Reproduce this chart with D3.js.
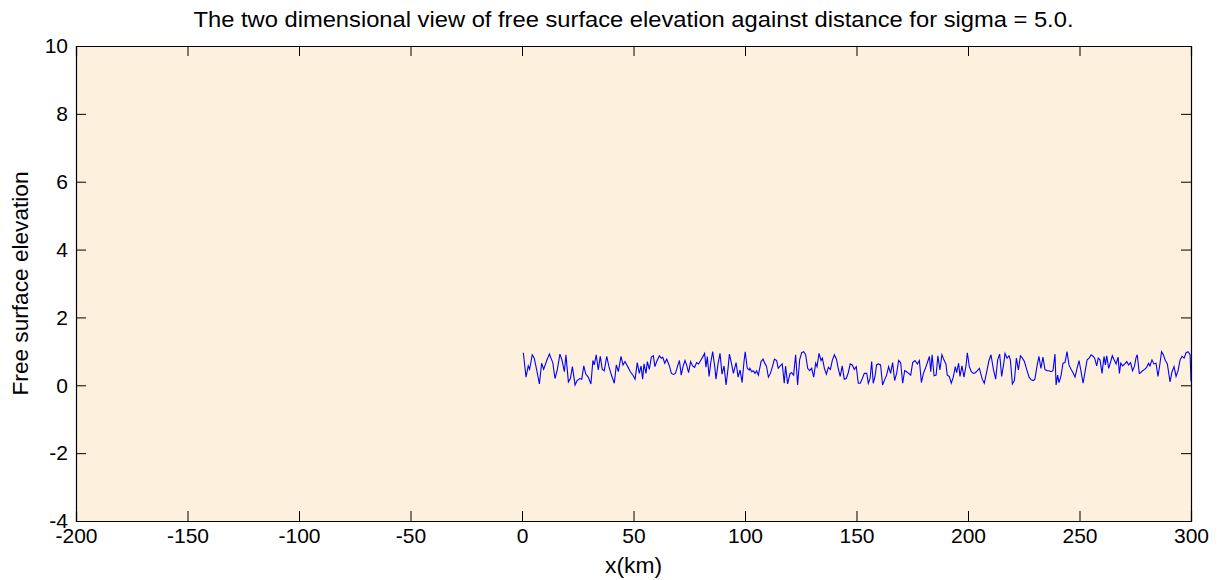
<!DOCTYPE html>
<html><head><meta charset="utf-8">
<script src="https://cdn.jsdelivr.net/npm/d3@7"></script>
<style>body{margin:0;background:#fff}svg{display:block}text{font-family:"Liberation Sans",Arial,sans-serif;fill:#000}</style>
</head><body>
<script>
const title = "The two dimensional view of free surface elevation against distance for sigma = 5.0.";
const xLabel = "x(km)";
const yLabel = "Free surface elevation";
const xTicks = [-200,-150,-100,-50,0,50,100,150,200,250,300];
const yTicks = [-4,-2,0,2,4,6,8,10];
const distanceKm = [0.6,1.8,2.8,3.4,4.6,5.5,6.6,7.8,8.8,9.7,11.1,12.3,13.0,13.8,14.8,15.8,17.0,17.9,19.0,19.7,20.8,21.7,22.6,23.8,24.7,25.9,26.8,27.7,28.6,29.7,30.9,31.8,32.4,33.3,34.2,35.1,36.0,36.9,38.0,39.0,40.2,41.4,42.3,43.2,44.4,45.3,46.2,47.4,48.6,49.9,
50.7,51.7,52.6,53.4,54.1,54.7,55.6,56.2,57.1,58.0,58.9,59.6,60.4,61.6,62.5,63.1,64.0,64.9,66.1,67.0,67.9,68.8,69.7,70.6,71.4,72.3,73.1,73.8,74.7,75.6,76.5,77.4,78.3,79.2,80.1,81.0,81.9,82.5,83.1,83.9,84.6,85.5,86.4,87.0,87.9,88.8,89.7,90.6,91.5,92.4,93.0,93.9,94.8,96.0,96.9,97.8,98.7,99.6,100.1,101.0,101.9,
102.2,103.0,103.7,104.5,105.2,106.0,107.2,108.1,109.0,109.6,110.5,111.4,112.3,113.2,114.2,114.9,115.8,116.7,117.6,118.2,119.1,120.2,120.9,121.8,122.7,123.6,124.5,125.4,126.3,127.2,128.1,129.0,129.9,130.8,131.7,132.3,133.2,134.1,134.7,135.6,136.5,137.4,138.3,139.2,140.1,141.0,141.9,142.7,143.6,144.5,145.4,146.3,147.2,148.1,149.0,149.9,150.8,151.7,152.6,153.5,
154.6,155.3,156.1,156.8,157.5,158.3,159.0,159.8,160.8,161.7,162.6,163.5,164.4,165.3,166.2,167.1,168.0,168.9,169.8,170.7,171.6,172.5,173.4,174.3,175.2,176.2,177.3,178.2,179.1,180.0,180.9,181.8,182.7,183.3,183.9,184.8,185.7,186.5,187.4,188.3,189.2,190.1,190.7,191.6,192.5,193.4,194.3,194.9,195.8,196.4,197.3,198.2,199.1,199.7,200.6,201.5,202.4,203.3,204.2,205.1,
206.4,207.3,208.4,209.4,210.3,211.4,212.4,213.3,214.2,215.1,216.0,216.6,217.5,218.4,219.0,219.9,220.8,221.7,222.6,223.5,224.4,225.3,226.3,227.4,228.3,229.3,230.0,230.9,231.8,232.7,233.6,234.5,235.4,236.3,237.2,238.1,239.0,239.5,240.2,240.8,241.7,242.6,243.5,244.4,245.3,246.2,247.1,248.0,248.9,249.8,250.7,251.6,252.5,253.4,254.3,255.2,256.2,
256.8,257.7,258.4,259.2,260.1,261.0,261.6,262.2,263.1,264.0,264.7,265.5,266.4,267.3,267.9,268.5,269.4,270.3,271.2,272.0,272.9,273.8,274.7,275.3,275.9,276.8,277.4,278.3,279.2,280.1,281.0,281.6,282.5,283.4,284.3,285.2,286.1,286.8,287.6,288.5,289.4,290.6,291.5,292.4,293.3,294.2,295.1,296.0,296.9,297.8,298.7,299.6,300.0];
const elevation = [0.96,0.24,0.57,0.47,0.9,0.8,0.45,0.04,0.65,0.47,0.73,0.92,0.8,0.67,0.2,0.45,0.92,0.75,0.4,0.9,0.1,0.2,0.55,0.01,0.14,0.2,0.18,0.57,0.33,0.24,0.04,0.73,0.6,0.9,0.45,0.85,0.47,0.43,0.85,0.55,0.28,0.06,0.6,0.4,0.85,0.6,0.7,0.55,0.4,0.28,
0.18,0.67,0.35,0.57,0.18,0.63,0.35,0.7,0.47,0.83,0.87,0.55,0.7,0.87,0.8,0.83,0.65,0.77,0.57,0.35,0.32,0.35,0.55,0.73,0.3,0.57,0.73,0.6,0.37,0.7,0.57,0.53,0.67,0.63,0.73,0.83,0.94,0.53,0.85,0.26,0.65,0.99,0.57,0.18,0.63,0.94,0.33,0.57,0.01,0.5,0.92,0.65,0.35,0.67,0.24,0.45,0.08,0.73,0.99,0.5,0.45,
0.5,0.4,0.43,0.35,0.43,0.3,0.7,0.77,0.63,0.57,0.24,0.35,0.55,0.77,0.73,0.5,0.57,0.63,0.06,0.57,0.04,0.35,0.37,0.3,0.9,0.01,0.75,0.96,0.99,0.9,0.5,0.43,0.5,0.24,0.65,0.55,0.94,0.73,0.8,0.5,0.33,0.53,0.47,0.75,0.9,0.77,0.47,0.26,0.57,0.18,0.2,0.37,0.63,0.6,0.47,0.55,0.06,0.06,0.2,0.35,
0.35,0.06,0.2,0.7,0.06,0.26,0.6,0.63,0.6,0.01,0.16,0.3,0.55,0.35,0.67,0.14,0.35,0.73,0.67,0.06,0.43,0.4,0.35,0.3,0.67,0.73,0.63,0.73,0.08,0.35,0.5,0.67,0.85,0.4,0.9,0.28,0.3,0.87,0.45,0.9,0.75,0.63,0.3,0.26,0.06,0.24,0.55,0.37,0.65,0.26,0.57,0.24,0.57,0.96,0.55,0.4,0.35,0.37,0.43,0.5,
0.18,0.06,0.4,0.73,0.9,0.47,0.18,0.75,0.92,0.26,0.63,0.94,0.8,0.87,0.75,0.04,0.14,0.8,0.45,0.87,0.8,0.7,0.47,0.24,0.16,0.14,0.18,0.55,0.85,0.5,0.83,0.47,0.43,0.43,0.4,0.43,0.92,0.01,0.3,0.08,0.28,0.65,0.67,0.99,0.6,0.47,0.37,0.24,0.5,0.73,0.4,0.06,0.4,0.75,0.8,0.9,0.85,
0.8,0.57,0.8,0.75,0.35,0.85,0.6,0.87,0.5,0.7,0.87,0.75,0.63,0.83,0.35,0.65,0.57,0.63,0.7,0.6,0.67,0.43,0.57,0.8,0.9,0.35,0.37,0.43,0.47,0.53,0.65,0.57,0.75,0.63,0.65,0.26,0.65,0.99,0.9,0.73,0.63,0.1,0.4,0.55,0.26,0.43,0.75,0.85,0.8,0.96,0.99,0.9,0.12];

const W = 1226, H = 580;
const m = {left:76, right:1191, top:46, bottom:521};
const svg = d3.select("body").append("svg").attr("width",W).attr("height",H);
const x = d3.scaleLinear().domain([-200,300]).range([m.left,m.right]);
const y = d3.scaleLinear().domain([-4,10]).range([m.bottom,m.top]);

svg.append("rect").attr("x",m.left).attr("y",m.top).attr("width",m.right-m.left).attr("height",m.bottom-m.top).attr("fill","#fdf0dc");

const pts = distanceKm.map((d,i)=>[d,elevation[i]]);
svg.append("path").datum(pts).attr("fill","none").attr("stroke","#0000ff").attr("stroke-width",1.1)
  .attr("d", d3.line().x(d=>x(d[0])).y(d=>y(d[1])));

const tl = 10;
const fs = 21;
const fmt = d => String(d);
const gb = svg.append("g").attr("transform",`translate(0,${m.bottom})`)
  .call(d3.axisBottom(x).tickValues(xTicks).tickSize(-tl).tickPadding(8).tickFormat(fmt));
const gt = svg.append("g").attr("transform",`translate(0,${m.top})`)
  .call(d3.axisTop(x).tickValues(xTicks).tickSize(-tl).tickFormat(""));
const gl = svg.append("g").attr("transform",`translate(${m.left},0)`)
  .call(d3.axisLeft(y).tickValues(yTicks).tickSize(-tl).tickPadding(8).tickFormat(fmt));
const gr = svg.append("g").attr("transform",`translate(${m.right},0)`)
  .call(d3.axisRight(y).tickValues(yTicks).tickSize(-tl).tickFormat(""));
[gb,gt,gl,gr].forEach(g=>{
  g.select(".domain").attr("stroke","#000").attr("stroke-width",1.2);
  g.selectAll(".tick line").attr("stroke","#000").attr("stroke-width",1);
  g.selectAll("text").attr("font-size",fs).attr("font-family","'Liberation Sans',Arial,sans-serif").attr("fill","#000");
});
gb.selectAll("text").attr("dy","0.72em").attr("y",7);
gl.selectAll("text").attr("x",-8);

svg.append("text").attr("x",(m.left+m.right)/2).attr("y",27).attr("text-anchor","middle").attr("font-size",22)
  .attr("textLength",880).attr("lengthAdjust","spacingAndGlyphs").text(title);
svg.append("text").attr("x",(m.left+m.right)/2).attr("y",573).attr("text-anchor","middle").attr("font-size",22)
  .attr("textLength",57).attr("lengthAdjust","spacingAndGlyphs").text(xLabel);
svg.append("text").attr("transform",`translate(28,${(m.top+m.bottom)/2}) rotate(-90)`).attr("text-anchor","middle").attr("font-size",22)
  .attr("textLength",224).attr("lengthAdjust","spacingAndGlyphs").text(yLabel);
</script>
</body></html>
